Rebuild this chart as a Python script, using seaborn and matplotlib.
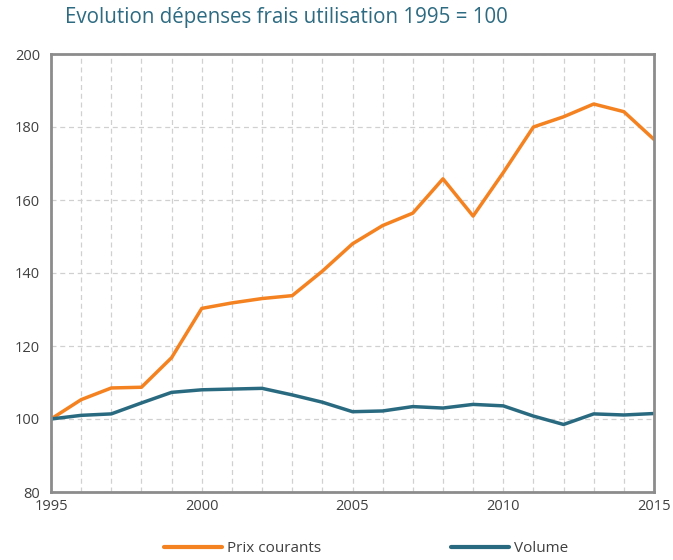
import pandas as pd
import matplotlib.pyplot as plt
import seaborn as sns

years = list(range(1995, 2016))
prix_courants = [100, 105.3, 108.5, 108.7, 116.8, 130.3, 131.8, 133.0, 133.8, 140.5,
                 148.0, 153.0, 156.4, 165.8, 155.6, 167.5, 180.0, 182.8, 186.3, 184.2, 176.6]
volume = [100, 101.0, 101.4, 104.4, 107.3, 108.0, 108.2, 108.4, 106.6, 104.6,
          102.0, 102.2, 103.4, 103.0, 104.0, 103.6, 100.8, 98.5, 101.4, 101.1, 101.5]
series_names = ["Prix courants", "Volume"]
colors = ["#f58220", "#2a6a80"]

df = pd.DataFrame({"annee": years, series_names[0]: prix_courants, series_names[1]: volume})
long_df = df.melt(id_vars="annee", var_name="serie", value_name="indice")

sns.set_theme(style="white")
plt.rcParams["font.family"] = ["Open Sans", "DejaVu Sans"]

fig = plt.figure(figsize=(6.73, 5.6), dpi=100)
ax = fig.add_axes([51 / 673, 1 - 492 / 560, (654 - 51) / 673, (492 - 54) / 560])

sns.lineplot(data=long_df, x="annee", y="indice", hue="serie",
             palette=dict(zip(series_names, colors)), linewidth=2.5, ax=ax, legend=False)

ax.set_xlim(1995, 2015)
ax.set_ylim(80, 200)
ax.set_xticks([1995, 2000, 2005, 2010, 2015])
ax.set_xticks(years, minor=True)
ax.set_yticks(range(80, 201, 20))
ax.grid(True, which="both", linestyle=(0, (4, 3)), color="#d0d0d0", linewidth=0.9)
ax.set_axisbelow(True)
ax.set_xlabel("")
ax.set_ylabel("")

for s in ax.spines.values():
    s.set_color("#8c8c8c")
    s.set_linewidth(2)
ax.tick_params(axis="both", which="both", direction="out", color="#8c8c8c",
               labelcolor="#404040", labelsize=10.5)
ax.tick_params(axis="x", which="both", length=5, width=1.2, pad=0)
ax.tick_params(axis="y", length=5, width=1.2, pad=3)

fig.text(65 / 673, 1 - 18 / 560, "Evolution dépenses frais utilisation 1995 = 100",
         color="#2d6b82", fontsize=14.8, va="center", ha="left")

handles = [plt.Line2D([], [], color=c, linewidth=3) for c in colors]
fig.legend(handles, series_names, loc="center", bbox_to_anchor=(366 / 673, 1 - 549 / 560),
           ncol=2, frameon=False, fontsize=11, handlelength=3.8, handletextpad=0.3,
           columnspacing=8.5, labelcolor="#404040")

plt.savefig("out.png", dpi=100)
